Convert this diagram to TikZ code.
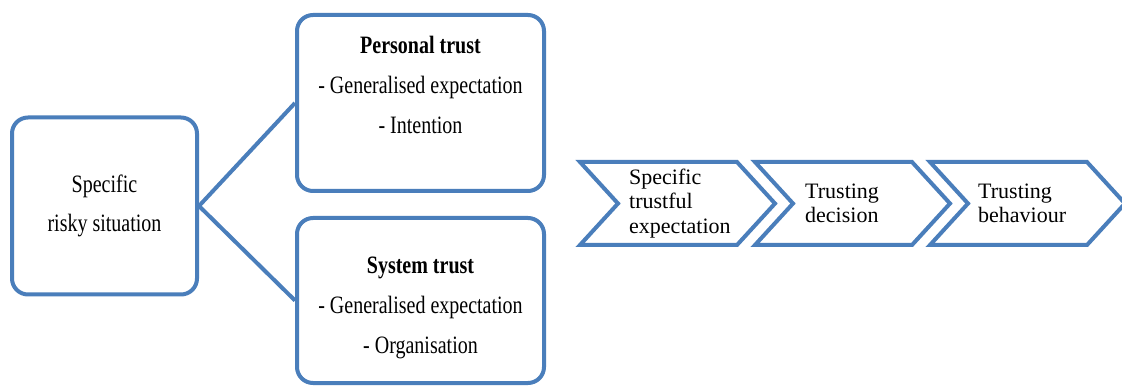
\documentclass[tikz,border=0pt]{standalone}
\usepackage{fontspec}
\setmainfont{Liberation Serif}
\newfontfamily\boxfont[FakeStretch=0.8]{Liberation Serif}
\definecolor{frameblue}{RGB}{74,126,187}
\begin{document}
\begin{tikzpicture}[x=1pt,y=-1pt,
  box/.style={draw=frameblue,line width=4pt,rounded corners=16pt,fill=white,
    align=center,font=\boxfont\fontsize{25}{39}\selectfont,inner sep=0pt},
  boxtext/.style={align=center,anchor=north,inner sep=0pt,
    font=\boxfont\fontsize{25}{40}\selectfont},
  link/.style={draw=frameblue,line width=4pt,line join=miter},
  chev/.style={draw=frameblue,line width=4pt,line join=miter,fill=white},
  chevtext/.style={anchor=west,align=left,inner sep=0pt,
    font=\fontsize{22}{24.5}\selectfont}]
\useasboundingbox[fill=white] (0,0) rectangle (1122,387);

% situation and the two kinds of trust
\node[box,minimum width=185pt,minimum height=177pt] (situation) at (104.5,206)
  {Specific\\risky situation};
\node[box,minimum width=247pt,minimum height=176pt] (personal) at (420.5,103)
  {};
\node[box,minimum width=247pt,minimum height=165pt] (system) at (420.5,300.5)
  {};
\node[boxtext] (personaltext) at (420.5,36)
  {\textbf{Personal trust}\\- Generalised expectation\\- Intention};
\node[boxtext] (systemtext) at (420.5,257)
  {\textbf{System trust}\\- Generalised expectation\\- Organisation};

\draw[link] (personal.west) -- (situation.east) -- (system.west);

% process chevrons
\foreach \L/\name in {580/c1,755/c2,930/c3}{
  \draw[chev] (\L,162) coordinate (\name) -- ++(157,0) -- ++(38,41.5)
    -- ++(-38,41.5) -- ++(-157,0) -- ++(38,-41.5) -- cycle;
}
\node[chevtext] (expect) at (629,203.5) {Specific\\trustful\\expectation};
\node[chevtext] (decision) at (805,203.5) {Trusting\\decision};
\node[chevtext] (behaviour) at (978,203.5) {Trusting\\behaviour};
\end{tikzpicture}
\end{document}
